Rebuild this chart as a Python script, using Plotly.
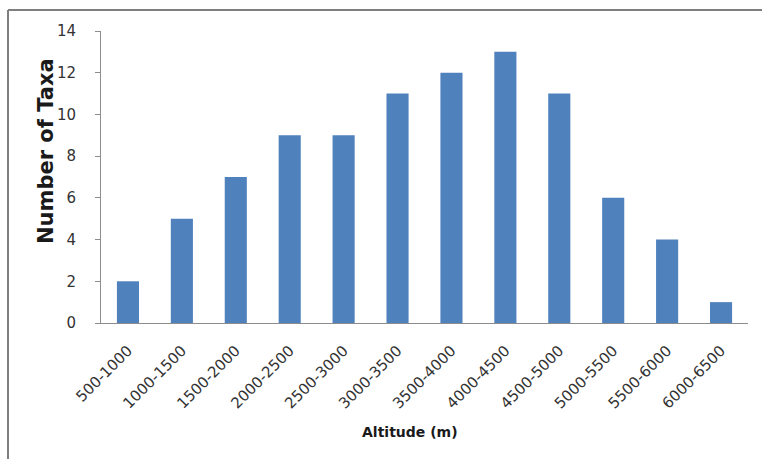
import plotly.graph_objects as go

categories = ["500-1000", "1000-1500", "1500-2000", "2000-2500", "2500-3000", "3000-3500",
              "3500-4000", "4000-4500", "4500-5000", "5000-5500", "5500-6000", "6000-6500"]
taxa = [2, 5, 7, 9, 9, 11, 12, 13, 11, 6, 4, 1]

W, H = 762, 459
ml, mr, mt, mb = 101, 14, 31, 136
pw, ph = W - ml - mr, H - mt - mb

fig = go.Figure(go.Bar(x=categories, y=taxa, marker=dict(color="#4F81BD", line=dict(width=0)),
                       width=0.41))

FONT = "DejaVu Sans, sans-serif"
fig.update_layout(
    width=W, height=H,
    margin=dict(l=ml, r=mr, t=mt, b=mb),
    paper_bgcolor="white", plot_bgcolor="white",
    showlegend=False,
    xaxis=dict(
        showline=True, linecolor="#8c8c8c", linewidth=1,
        ticks="", tickangle=-45, tickfont=dict(family=FONT, size=15, color="#333333"),
        ticklabelstandoff=12,
        showgrid=False,
    ),
    yaxis=dict(
        range=[0, 14], dtick=2, showline=True, linecolor="#8c8c8c", linewidth=1,
        ticks="outside", ticklen=5, tickcolor="#8c8c8c",
        tickfont=dict(family=FONT, size=15, color="#333333"),
        ticklabelstandoff=16,
        showgrid=False, zeroline=False,
    ),
)

def px_to_paper_x(px):
    return (px - ml) / pw

def px_to_paper_y(py):
    return 1 - (py - mt) / ph

# axis titles
fig.add_annotation(text="<b>Altitude (m)</b>", xref="paper", yref="paper",
                   x=px_to_paper_x(410), y=px_to_paper_y(432), showarrow=False,
                   xanchor="center", yanchor="middle",
                   font=dict(family=FONT, size=14, color="#1a1a1a"))
fig.add_annotation(text="<b>Number of Taxa</b>", xref="paper", yref="paper",
                   x=px_to_paper_x(46), y=px_to_paper_y(151), showarrow=False,
                   xanchor="center", yanchor="middle", textangle=-90,
                   font=dict(family=FONT, size=21, color="#1a1a1a"))

# outer frame (top and left edges)
x_left = px_to_paper_x(8)
y_top = px_to_paper_y(10)
x_right = px_to_paper_x(W)
y_bot = px_to_paper_y(H)
fig.add_shape(type="line", xref="paper", yref="paper", x0=x_left, x1=x_right, y0=y_top, y1=y_top,
              line=dict(color="#7f7f7f", width=2))
fig.add_shape(type="line", xref="paper", yref="paper", x0=x_left, x1=x_left, y0=y_top, y1=y_bot,
              line=dict(color="#7f7f7f", width=2))

fig.write_html("out.html")
